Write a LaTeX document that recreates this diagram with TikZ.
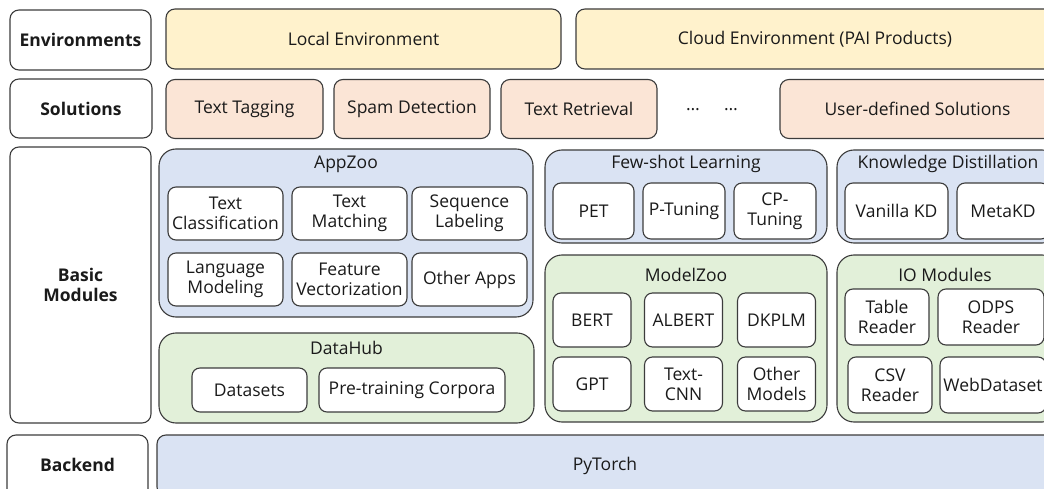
\documentclass[tikz,border=0pt]{standalone}
\usepackage{fontspec}
\setmainfont{Open Sans}
\usetikzlibrary{positioning}

\definecolor{envyellow}{HTML}{FFF2CC}
\definecolor{solorange}{HTML}{FBE5D6}
\definecolor{modblue}{HTML}{DAE3F3}
\definecolor{modgreen}{HTML}{E2F0D9}
\definecolor{edgegray}{HTML}{3C3C3C}
\definecolor{inkblack}{HTML}{1A1A1A}

\tikzset{
  box/.style={draw=edgegray, line width=1.1pt, rounded corners=9pt, align=center,
    inner sep=0pt, text=inkblack, font=\fontsize{17.5}{20}\selectfont},
  layerlabel/.style={box, fill=white, font=\fontsize{17.5}{20}\selectfont\bfseries},
  envbox/.style={box, fill=envyellow},
  solbox/.style={box, fill=solorange},
  groupbox/.style={box, rounded corners=17pt},
  itembox/.style={box, fill=white, rounded corners=8pt},
  grouptitle/.style={inner sep=0pt, text=inkblack, font=\fontsize{17.5}{20}\selectfont},
}

\begin{document}
\begin{tikzpicture}[x=1pt,y=-1pt]
    \useasboundingbox (0,0) rectangle (1044,489);
    \clip (0,0) rectangle (1044,489);

    % Layer labels
    \node[layerlabel, minimum width=141pt, minimum height=60pt] (envlabel) at (80.5,40) {Environments};
    \node[layerlabel, minimum width=142pt, minimum height=59pt] (sollabel) at (81,108.5) {Solutions};
    \node[layerlabel, minimum width=141pt, minimum height=276pt] (basiclabel) at (80.5,285) {Basic\\Modules};
    \node[layerlabel, minimum width=141pt, minimum height=70pt] (backlabel) at (77.5,470) {};
    \node[grouptitle, font=\fontsize{17.5}{20}\selectfont\bfseries] (backtext) at (77.5,465) {Backend};

    % Environments
    \node[envbox, minimum width=395pt, minimum height=60pt] (localenv) at (363.5,39) {Local Environment};
    \node[envbox, minimum width=478pt, minimum height=60pt] (cloudenv) at (815,39) {Cloud Environment (PAI Products)};

    % Solutions
    \node[solbox, minimum width=157pt, minimum height=59pt] (tagging) at (244.5,109) {Text Tagging};
    \node[solbox, minimum width=156pt, minimum height=59pt] (spam) at (412,109) {Spam Detection};
    \node[solbox, minimum width=156pt, minimum height=59pt] (retrieval) at (579,109) {Text Retrieval};
    \node[grouptitle] (dotsa) at (693,110) {…};
    \node[grouptitle] (dotsb) at (731,110) {…};
    \node[solbox, minimum width=275pt, minimum height=59pt] (userdef) at (917.5,109) {User-defined Solutions};

    % AppZoo
    \node[groupbox, fill=modblue, minimum width=374pt, minimum height=168pt] (appzoo) at (346,233) {};
    \node[grouptitle] (appzootitle) at (346,164) {AppZoo};
    \node[itembox, minimum width=115pt, minimum height=53pt] (textcls) at (225.5,213.5) {Text\\Classification};
    \node[itembox, minimum width=115pt, minimum height=53pt] (textmatch) at (349.5,213.5) {Text\\Matching};
    \node[itembox, minimum width=115pt, minimum height=53pt] (seqlab) at (469.5,213.5) {Sequence\\Labeling};
    \node[itembox, minimum width=115pt, minimum height=53pt] (langmod) at (225.5,279.5) {Language\\Modeling};
    \node[itembox, minimum width=115pt, minimum height=53pt] (featvec) at (349.5,279.5) {Feature\\Vectorization};
    \node[itembox, minimum width=115pt, minimum height=53pt] (otherapps) at (469.5,279.5) {Other Apps};

    % DataHub
    \node[groupbox, fill=modgreen, minimum width=375pt, minimum height=90pt] (datahub) at (346.5,378) {};
    \node[grouptitle] (datahubtitle) at (346.5,348) {DataHub};
    \node[itembox, minimum width=115pt, minimum height=44pt] (datasets) at (249.5,390) {Datasets};
    \node[itembox, minimum width=186pt, minimum height=44pt] (corpora) at (412,390) {Pre-training Corpora};

    % Few-shot Learning
    \node[groupbox, fill=modblue, minimum width=282pt, minimum height=93pt] (fewshot) at (686,196.5) {};
    \node[grouptitle] (fewshottitle) at (686,164) {Few-shot Learning};
    \node[itembox, minimum width=81pt, minimum height=56pt] (pet) at (593.5,211) {PET};
    \node[itembox, minimum width=82pt, minimum height=56pt] (ptuning) at (684,211) {P-Tuning};
    \node[itembox, minimum width=82pt, minimum height=56pt] (cptuning) at (775,211) {CP-\\Tuning};

    % Knowledge Distillation
    \node[groupbox, fill=modblue, minimum width=222pt, minimum height=93pt] (kd) at (948,196.5) {};
    \node[grouptitle] (kdtitle) at (948,164) {Knowledge Distillation};
    \node[itembox, minimum width=103pt, minimum height=56pt] (vanillakd) at (896.5,211) {Vanilla KD};
    \node[itembox, minimum width=92pt, minimum height=56pt] (metakd) at (1003,211) {MetaKD};

    % ModelZoo
    \node[groupbox, fill=modgreen, minimum width=282pt, minimum height=167pt] (modelzoo) at (686,338.5) {};
    \node[grouptitle] (modelzootitle) at (686,275) {ModelZoo};
    \node[itembox, minimum width=78pt, minimum height=54pt] (bert) at (592,320) {BERT};
    \node[itembox, minimum width=78pt, minimum height=54pt] (albert) at (683.5,320) {ALBERT};
    \node[itembox, minimum width=78pt, minimum height=54pt] (dkplm) at (776.5,320) {DKPLM};
    \node[itembox, minimum width=78pt, minimum height=54pt] (gpt) at (592,384) {GPT};
    \node[itembox, minimum width=78pt, minimum height=54pt] (textcnn) at (683.5,384) {Text-\\CNN};
    \node[itembox, minimum width=78pt, minimum height=54pt] (othermodels) at (776.5,384) {Other\\Models};

    % IO Modules
    \node[groupbox, fill=modgreen, minimum width=222pt, minimum height=167pt] (iomod) at (948,338.5) {};
    \node[grouptitle] (iomodtitle) at (945,275) {IO Modules};
    \node[itembox, minimum width=84pt, minimum height=56pt] (tablereader) at (887,317) {Table\\Reader};
    \node[itembox, minimum width=106pt, minimum height=56pt] (odpsreader) at (991,317) {ODPS\\Reader};
    \node[itembox, minimum width=84pt, minimum height=56pt] (csvreader) at (890,385) {CSV\\Reader};
    \node[itembox, minimum width=106pt, minimum height=56pt] (webdataset) at (993,385) {WebDataset};

    % Backend
    \node[box, fill=modblue, minimum width=896pt, minimum height=61pt] (pytorch) at (605,465.5) {PyTorch};
\end{tikzpicture}
\end{document}
